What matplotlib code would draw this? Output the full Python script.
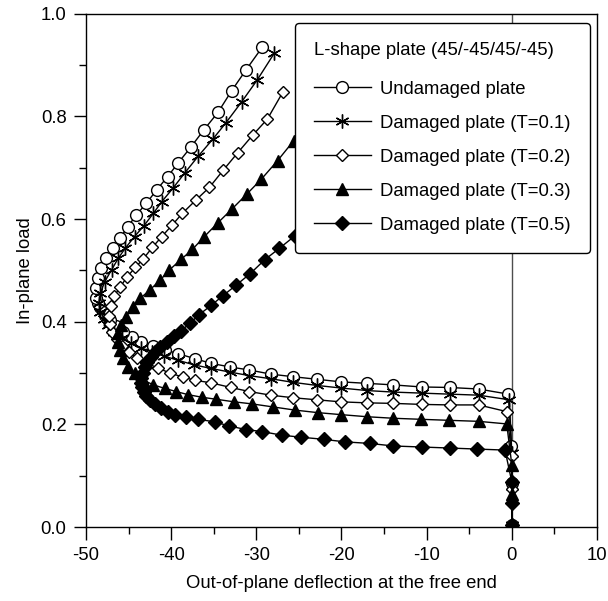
import numpy as np
import matplotlib
matplotlib.use("Agg")
import matplotlib.pyplot as plt

plt.rcParams['font.family'] = ['Liberation Sans', 'DejaVu Sans']

# values, ordered from the origin along each curve
x_undamaged = [0, 0, -0.05, -0.4, -3.9, -7.3, -10.6, -13.9, -17.0, -20.1, -22.9, -25.7,
               -28.3, -30.8, -33.1, -35.3, -37.2, -39.2, -40.7, -42.1, -43.5, -44.6, -45.6,
               -46.5, -47.2, -47.8, -48.3, -48.6, -48.8, -48.8, -48.6, -48.2, -47.6, -46.8,
               -46.0, -45.1, -44.1, -42.9, -41.7, -40.4, -39.2, -37.7, -36.2, -34.5, -32.9,
               -31.2, -29.3]
y_undamaged = [0.005, 0.085, 0.158, 0.259, 0.269, 0.272, 0.273, 0.277, 0.280, 0.283, 0.288, 0.293,
               0.298, 0.306, 0.312, 0.319, 0.328, 0.338, 0.345, 0.353, 0.361, 0.370, 0.380,
               0.391, 0.403, 0.415, 0.428, 0.437, 0.446, 0.465, 0.485, 0.504, 0.524, 0.543,
               0.563, 0.585, 0.608, 0.631, 0.657, 0.683, 0.709, 0.740, 0.773, 0.808, 0.850,
               0.891, 0.935]

x_t01 = [0, 0, 0, -0.3, -3.9, -7.3, -10.6, -13.9, -17.0, -20.1, -22.9, -25.7, -28.3,
         -30.8, -33.1, -35.3, -37.3, -39.2, -40.8, -42.2, -43.5, -44.7, -45.8, -46.7, -47.4,
         -47.9, -48.3, -48.5, -48.3, -47.8, -47.0, -46.2, -45.4, -44.3, -43.2, -42.1, -41.1,
         -39.8, -38.4, -36.8, -35.1, -33.6, -31.7, -29.9, -27.9]
y_t01 = [0.005, 0.080, 0.145, 0.248, 0.257, 0.259, 0.261, 0.263, 0.266, 0.271, 0.276, 0.282,
         0.289, 0.295, 0.302, 0.309, 0.316, 0.325, 0.333, 0.341, 0.349, 0.358, 0.368, 0.380,
         0.393, 0.406, 0.420, 0.436, 0.456, 0.478, 0.501, 0.524, 0.543, 0.566, 0.587, 0.611,
         0.634, 0.660, 0.690, 0.723, 0.756, 0.787, 0.829, 0.871, 0.923]

x_t02 = [0, 0, 0, -0.6, -3.9, -7.3, -10.6, -13.9, -17.0, -20.1, -22.9, -25.7, -28.3,
         -30.8, -33.0, -35.3, -37.2, -38.6, -40.1, -41.6, -42.9, -44.0, -45.0, -45.8, -46.4,
         -46.9, -47.2, -47.3, -47.1, -46.7, -46.0, -45.2, -44.2, -43.3, -42.2, -41.1, -39.9,
         -38.7, -37.1, -35.5, -33.9, -32.2, -30.4, -28.7, -26.9]
y_t02 = [0.005, 0.075, 0.139, 0.225, 0.238, 0.238, 0.239, 0.241, 0.242, 0.244, 0.248, 0.252,
         0.257, 0.264, 0.272, 0.281, 0.286, 0.292, 0.300, 0.310, 0.320, 0.330, 0.341, 0.353,
         0.367, 0.381, 0.396, 0.412, 0.431, 0.450, 0.467, 0.487, 0.506, 0.522, 0.545, 0.566,
         0.588, 0.611, 0.637, 0.662, 0.695, 0.729, 0.764, 0.795, 0.847]

x_t03 = [0, 0, 0, -0.6, -3.9, -7.4, -10.7, -13.9, -17.0, -20.0, -22.8, -25.5, -28.0,
         -30.5, -32.6, -34.7, -36.4, -38.0, -39.4, -40.7, -42.1, -43.3, -44.3, -45.1, -45.6,
         -46.0, -46.2, -46.2, -45.9, -45.3, -44.5, -43.6, -42.5, -41.3, -40.2, -38.8, -37.5,
         -36.1, -34.5, -32.9, -31.1, -29.4, -27.5, -25.6, -23.6]
y_t03 = [0.005, 0.065, 0.121, 0.201, 0.206, 0.208, 0.210, 0.212, 0.215, 0.219, 0.223, 0.228,
         0.234, 0.240, 0.244, 0.249, 0.253, 0.258, 0.264, 0.270, 0.277, 0.287, 0.300, 0.312,
         0.329, 0.345, 0.361, 0.378, 0.394, 0.410, 0.429, 0.446, 0.462, 0.481, 0.501, 0.522,
         0.541, 0.566, 0.593, 0.619, 0.649, 0.678, 0.714, 0.753, 0.800]

x_t05 = [0, 0, 0, -0.8, -4.1, -7.3, -10.6, -13.9, -16.7, -19.6, -22.1, -24.7, -27.0,
         -29.3, -31.2, -33.2, -34.9, -36.8, -38.3, -39.5, -40.4, -41.2, -41.9, -42.5, -42.9,
         -43.2, -43.4, -43.5, -43.5, -43.3, -43.1, -42.8, -42.4, -41.9, -41.3, -40.5, -39.7,
         -38.8, -37.8, -36.7, -35.3, -33.9, -32.4, -30.7, -29.0, -27.3, -25.5, -23.5]
y_t05 = [0.005, 0.046, 0.088, 0.150, 0.152, 0.154, 0.156, 0.158, 0.163, 0.166, 0.171, 0.175,
         0.179, 0.186, 0.190, 0.197, 0.205, 0.210, 0.214, 0.219, 0.225, 0.232, 0.239, 0.247,
         0.255, 0.263, 0.272, 0.281, 0.291, 0.301, 0.311, 0.321, 0.331, 0.341, 0.350, 0.361,
         0.372, 0.383, 0.397, 0.414, 0.432, 0.451, 0.471, 0.494, 0.521, 0.543, 0.567, 0.597]

labels = ["Undamaged plate", "Damaged plate (T=0.1)", "Damaged plate (T=0.2)",
          "Damaged plate (T=0.3)", "Damaged plate (T=0.5)"]
legend_title = "L-shape plate (45/-45/45/-45)"

fig = plt.figure(figsize=(6.08, 6.01), dpi=100)
ax = fig.add_axes([0.1414, 0.123, 0.8405, 0.854])

ax.axvline(0, color='0.3', lw=1.0, zorder=1)

line_kw = dict(color='black', lw=1.0, zorder=3)
ax.plot(x_undamaged, y_undamaged, marker='o', ms=8.5, mfc='white', mec='black', mew=1.0,
        label=labels[0], **line_kw)
ax.plot(x_t01, y_t01, marker=(6, 2, 0), ms=10, mec='black', mew=1.0,
        label=labels[1], **line_kw)
ax.plot(x_t02, y_t02, marker='D', ms=6.5, mfc='white', mec='black', mew=1.0,
        label=labels[2], **line_kw)
ax.plot(x_t03, y_t03, marker='^', ms=8.5, mfc='black', mec='black',
        label=labels[3], **line_kw)
ax.plot(x_t05, y_t05, marker='D', ms=7, mfc='black', mec='black',
        label=labels[4], **line_kw)

ax.set_xlim(-50, 10)
ax.set_ylim(0, 1.0)
ax.set_xticks(np.arange(-50, 11, 10))
ax.set_xticks(np.arange(-45, 10, 10), minor=True)
ax.set_yticks(np.arange(0, 1.01, 0.2))
ax.set_yticks(np.arange(0.1, 1.0, 0.2), minor=True)
ax.set_xticklabels(["-50", "-40", "-30", "-20", "-10", "0", "10"])
ax.set_yticklabels(["0.0", "0.2", "0.4", "0.6", "0.8", "1.0"])
ax.tick_params(which='major', direction='out', length=9, width=1, labelsize=13.3, pad=5)
ax.tick_params(which='minor', direction='out', length=5, width=1)
for s in ax.spines.values():
    s.set_linewidth(1.0)

ax.set_xlabel("Out-of-plane deflection at the free end", fontsize=13.3, labelpad=8)
ax.set_ylabel("In-plane load", fontsize=13.3, labelpad=5)

leg = ax.legend(title=legend_title, loc='upper right', bbox_to_anchor=(0.986, 0.982),
                borderaxespad=0, fontsize=13.3, title_fontsize=13.3, handlelength=3.05,
                labelspacing=0.92, borderpad=1.05, fancybox=True, framealpha=1,
                edgecolor='black', alignment='left', handletextpad=0.5)
leg.get_frame().set_linewidth(1.0)
leg._legend_box.sep = 1.15 * 13.3
leg.set_zorder(10)

fig.savefig("out.png", dpi=100)
